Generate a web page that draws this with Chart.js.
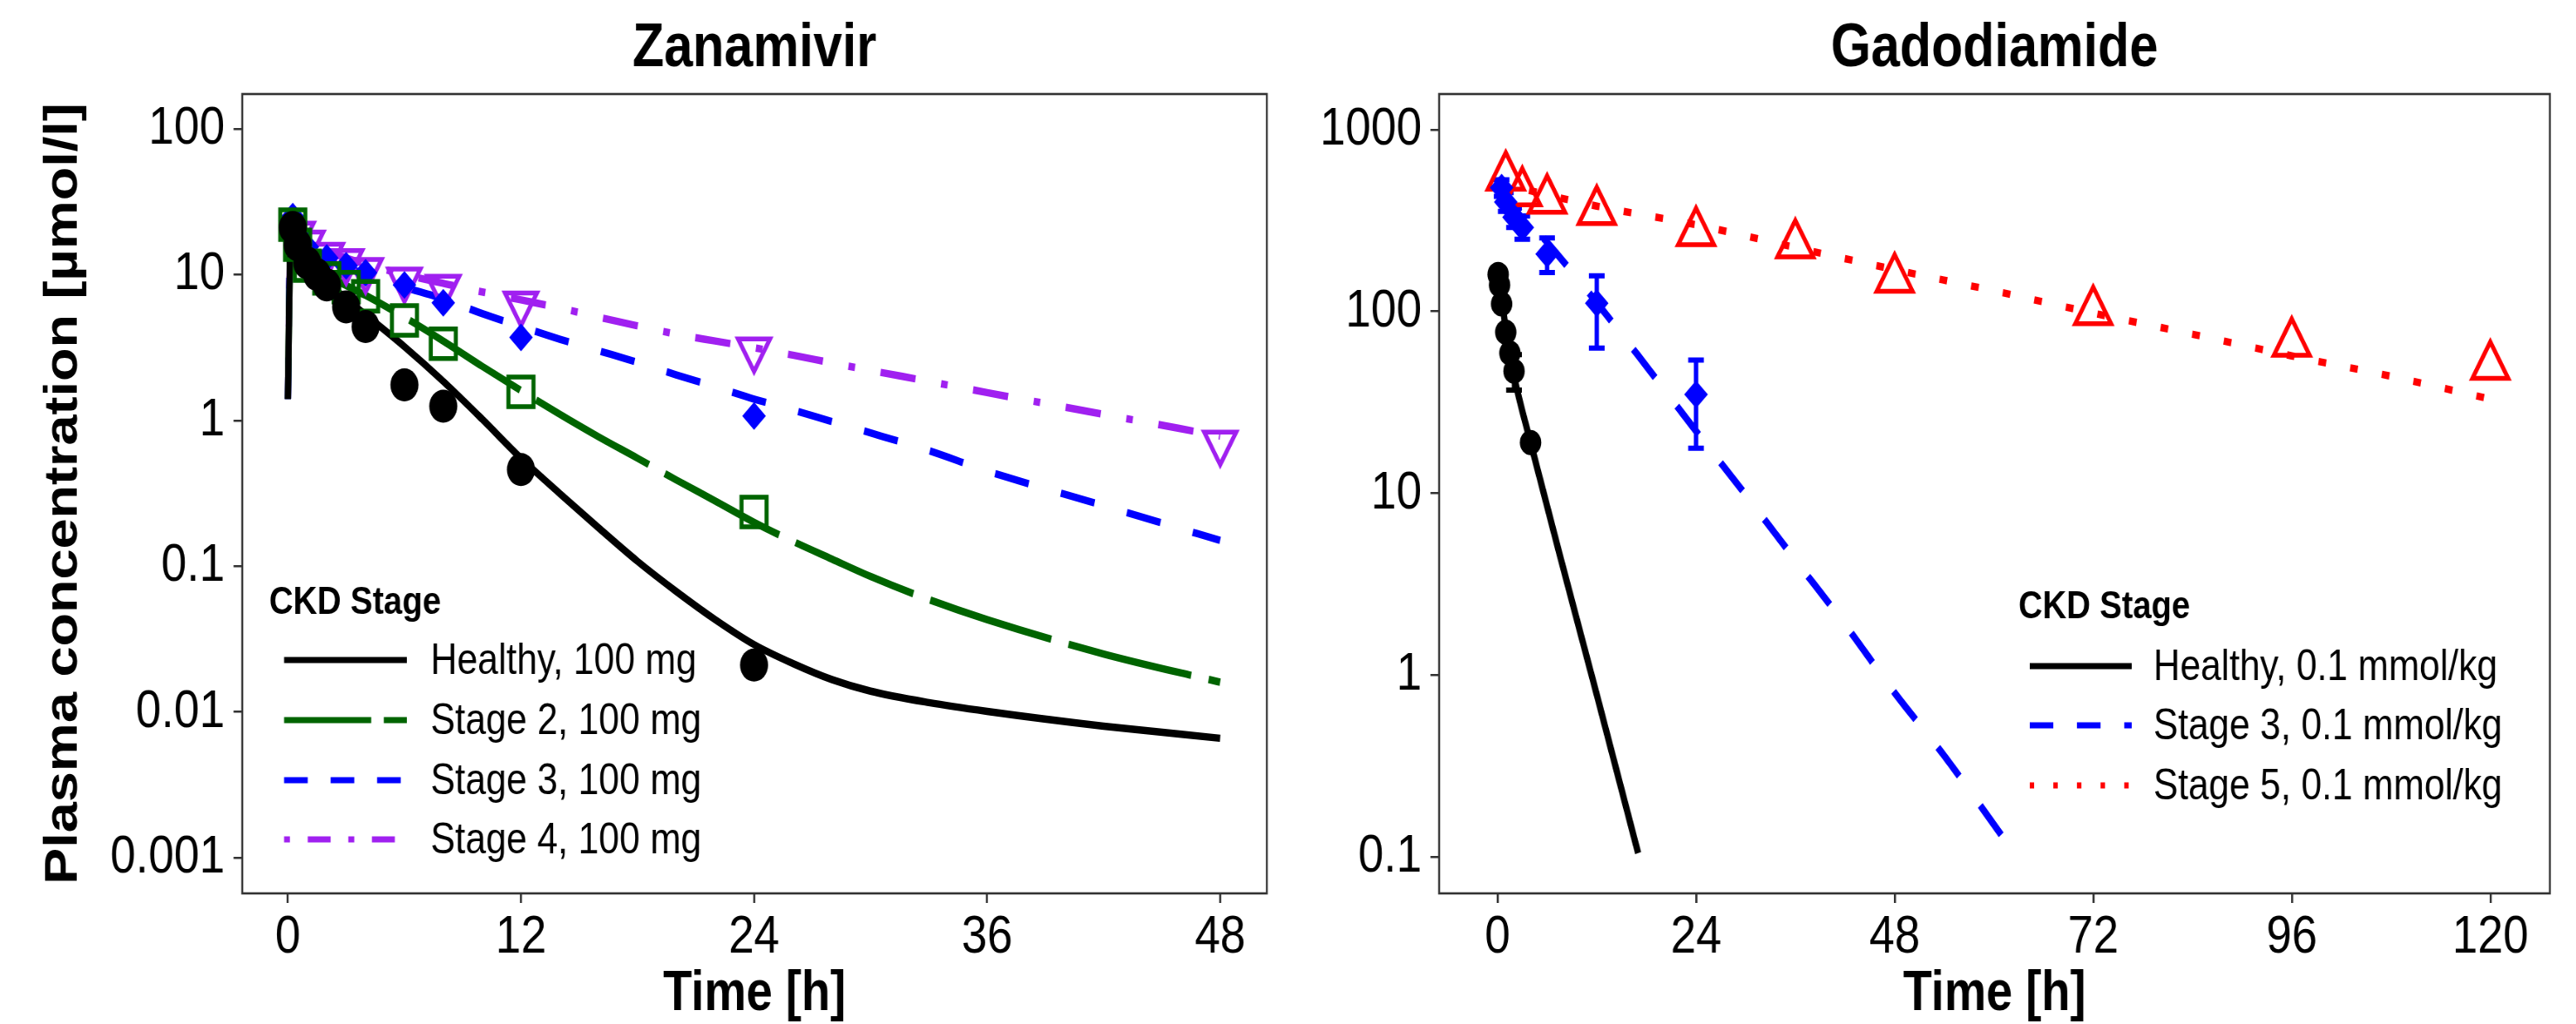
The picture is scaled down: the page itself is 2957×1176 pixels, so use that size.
<!DOCTYPE html>
<html>
<head>
<meta charset="utf-8">
<title>Zanamivir and Gadodiamide plasma concentrations by CKD stage</title>
<script src="https://cdn.jsdelivr.net/npm/chart.js@4.4.0/dist/chart.umd.min.js"></script>
<style>
    html, body { margin: 0; padding: 0; background: #fff; overflow: hidden; }
    #page { position: relative; width: 2957px; height: 1176px; overflow: hidden; }
    .panel { position: absolute; top: 0; height: 1176px; transform-origin: 0 0; }
</style>
</head>
<body>
<div id="page">
    <div class="panel" id="zanaBox"><canvas id="zana"></canvas></div>
    <div class="panel" id="gadoBox"><canvas id="gado"></canvas></div>
</div>
<script>
// ---------- Zanamivir (left panel) ----------
const zanaSimTime    = [0, 0.1, 0.25, 0.5, 1, 2, 3, 4, 6, 8, 10, 12, 14, 16, 18, 20, 22, 24, 26, 28, 30, 33, 36, 42, 48];
const zanaSimHealthy = [1.4, 12, 20, 17, 13, 9, 6.8, 5.3, 3.2, 1.85, 1.02, 0.55, 0.315, 0.183, 0.108, 0.067, 0.043, 0.029, 0.0215, 0.0167, 0.0139, 0.0116, 0.0101, 0.0080, 0.0066];
const zanaSimStage2  = [1.4, 12, 20, 17, 13, 10, 8.4, 7.2, 5.1, 3.5, 2.35, 1.6, 1.1, 0.77, 0.55, 0.39, 0.28, 0.2, 0.148, 0.112, 0.085, 0.059, 0.043, 0.025, 0.016];
const zanaSimStage3  = [1.4, 13, 21, 18, 15.5, 13, 11.3, 10, 8.2, 6.8, 5.4, 4.4, 3.6, 3.0, 2.5, 2.05, 1.7, 1.4, 1.18, 0.98, 0.82, 0.62, 0.45, 0.26, 0.15];
const zanaSimStage4  = [1.4, 13, 21, 18.5, 16.5, 14.5, 13, 11.8, 10, 8.7, 7.6, 6.7, 5.9, 5.1, 4.45, 3.9, 3.5, 3.15, 2.8, 2.48, 2.2, 1.85, 1.55, 1.1, 0.78];

const zanaObsHealthyTime = [0.25, 0.5, 1, 1.5, 2, 3, 4, 6, 8, 12, 24];
const zanaObsHealthy     = [21, 16, 12, 10, 8.5, 6, 4.4, 1.75, 1.25, 0.46, 0.021];
const zanaObsStage2Time  = [0.25, 0.5, 1, 2, 3, 4, 6, 8, 12, 24];
const zanaObsStage2      = [22, 16, 11.5, 9.4, 8.2, 7.1, 4.85, 3.35, 1.57, 0.235];
const zanaObsStage3Time  = [0.25, 0.5, 1, 2, 3, 4, 6, 8, 12, 24];
const zanaObsStage3      = [25, 19, 15.5, 13, 11.5, 10.3, 8.5, 6.4, 3.7, 1.07];
const zanaObsStage4Time  = [0.5, 1, 2, 3, 4, 6, 8, 12, 24, 48];
const zanaObsStage4      = [19, 16.5, 13.6, 12.3, 10.7, 9.2, 8.2, 6.3, 3.05, 0.7];

const zanaXTicks      = [0, 12, 24, 36, 48];
const zanaYTicks      = [0.001, 0.01, 0.1, 1, 10, 100];
const zanaYTickLabels = ['0.001', '0.01', '0.1', '1', '10', '100'];
const zanaLegendLabels = ['Healthy, 100 mg', 'Stage 2, 100 mg', 'Stage 3, 100 mg', 'Stage 4, 100 mg'];

// ---------- Gadodiamide (right panel) ----------
const gadoSimHealthyTime = [0, 0.5, 1, 1.5, 2, 4, 8, 12, 17];
const gadoSimHealthy     = [170, 120, 80, 58, 44, 19, 3.8, 0.78, 0.105];
const gadoSimStage3Time  = [0, 3, 6, 12, 18, 24, 30, 36, 42, 48, 54, 61];
const gadoSimStage3      = [500, 340, 240, 112, 50, 22, 9.8, 4.3, 1.9, 0.8, 0.36, 0.13];
const gadoSimStage5Time  = [0, 12, 24, 36, 48, 60, 72, 84, 96, 108, 120];
const gadoSimStage5      = [510, 380, 300, 225, 170, 130, 98, 75, 57, 44, 33];

const gadoObsHealthyTime = [0.08, 0.25, 0.5, 1, 1.5, 2, 4];
const gadoObsHealthy     = [160, 140, 110, 77, 59, 47, 19];
const gadoObsHealthyLow  = [null, null, null, null, null, 37, null];
const gadoObsHealthyHigh = [null, null, null, null, null, 58, null];
const gadoObsStage3Time  = [0.5, 1, 2, 3, 6, 12, 24];
const gadoObsStage3      = [480, 400, 330, 290, 207, 111, 35];
const gadoObsStage3Low   = [430, 355, 290, 250, 164, 63, 17.7];
const gadoObsStage3High  = [530, 450, 370, 335, 254, 157, 54];
const gadoObsStage5Time  = [1, 3, 6, 12, 24, 36, 48, 72, 96, 120];
const gadoObsStage5      = [550, 450, 410, 355, 272, 233, 151, 100, 67, 50];

const gadoXTicks      = [0, 24, 48, 72, 96, 120];
const gadoYTicks      = [0.1, 1, 10, 100, 1000];
const gadoYTickLabels = ['0.1', '1', '10', '100', '1000'];
const gadoLegendLabels = ['Healthy, 0.1 mmol/kg', 'Stage 3, 0.1 mmol/kg', 'Stage 5, 0.1 mmol/kg'];

// ---------- styling ----------
// The figure looks tall and narrow, so each panel is drawn wider and squeezed back.
const SQUEEZE = 1.18;
const FONT = '"Liberation Sans", Arial, sans-serif';
const AXIS = '#333333';
const BLACK = '#000000';
const GREEN = '#006400';
const BLUE = '#0000FF';
const PURPLE = '#A020F0';
const RED = '#FF0000';
const NONE = 'rgba(0,0,0,0)';

/** horizontal size in the widened canvas */
function sx(v) {
    return v * SQUEEZE;
}

/** place a panel box and squeeze it back to its page width */
function setupBox(id, left, width) {
    const box = document.getElementById(id);
    const wide = Math.round(width * SQUEEZE);
    box.style.left = left + 'px';
    box.style.width = wide + 'px';
    box.style.transform = 'scaleX(' + (width / wide) + ')';
}

/** zip two arrays into {x, y} points */
function toPoints(xs, ys) {
    return xs.map((x, i) => ({ x: x, y: ys[i] }));
}

/** simulated curve drawn as a line without markers */
function simLine(label, xs, ys, color, dash, legendDash) {
    return {
        label: label,
        data: toPoints(xs, ys),
        showLine: true,
        borderColor: color,
        borderWidth: 8.5,
        borderDash: dash,
        borderCapStyle: 'butt',
        cubicInterpolationMode: 'monotone',
        pointRadius: 0,
        pointHoverRadius: 0,
        fill: false,
        order: 2,
        legendDash: legendDash
    };
}

/** observed data drawn as markers only */
function obsPoints(xs, ys, style) {
    return Object.assign({
        data: toPoints(xs, ys),
        showLine: false,
        pointBorderWidth: 0,
        order: 1
    }, style);
}

// frame round the panel
const framePlugin = {
    id: 'frame',
    afterDraw(chart) {
        const a = chart.chartArea;
        const ctx = chart.ctx;
        ctx.save();
        ctx.strokeStyle = AXIS;
        ctx.lineWidth = 2.6;
        ctx.strokeRect(a.left, a.top, a.right - a.left, a.bottom - a.top);
        ctx.restore();
    }
};

// vertical error bars with caps
const errorBarPlugin = {
    id: 'errorBars',
    beforeDatasetsDraw(chart, args, opts) {
        if (!opts || !opts.sets) return;
        const ctx = chart.ctx;
        const xs = chart.scales.x;
        const ys = chart.scales.y;
        const half = sx(9);
        ctx.save();
        opts.sets.forEach(set => {
            ctx.strokeStyle = set.color;
            set.x.forEach((t, i) => {
                if (set.low[i] == null) return;
                const px = xs.getPixelForValue(t);
                const lo = ys.getPixelForValue(set.low[i]);
                const hi = ys.getPixelForValue(set.high[i]);
                ctx.lineWidth = sx(5);
                ctx.beginPath();
                ctx.moveTo(px, lo);
                ctx.lineTo(px, hi);
                ctx.stroke();
                ctx.lineWidth = 6;
                ctx.beginPath();
                ctx.moveTo(px - half, lo);
                ctx.lineTo(px + half, lo);
                ctx.moveTo(px - half, hi);
                ctx.lineTo(px + half, hi);
                ctx.stroke();
            });
        });
        ctx.restore();
    }
};

// legend in the ggplot style, inside the panel
const stageLegendPlugin = {
    id: 'stageLegend',
    afterDraw(chart, args, opts) {
        if (!opts || !opts.title) return;
        const ctx = chart.ctx;
        const items = chart.data.datasets.filter(ds => ds.legendDash);
        ctx.save();
        ctx.fillStyle = BLACK;
        ctx.textAlign = 'left';
        ctx.textBaseline = 'alphabetic';
        ctx.font = 'bold 45px ' + FONT;
        ctx.fillText(opts.title, sx(opts.titleX), opts.titleY);
        items.forEach((ds, i) => {
            const y = opts.rowY[i];
            ctx.strokeStyle = ds.borderColor;
            ctx.lineWidth = 7;
            ctx.setLineDash(ds.legendDash);
            ctx.beginPath();
            ctx.moveTo(sx(opts.keyX0), y);
            ctx.lineTo(sx(opts.keyX1), y);
            ctx.stroke();
            ctx.setLineDash([]);
            ctx.font = '50px ' + FONT;
            ctx.textBaseline = 'middle';
            ctx.fillText(ds.label, sx(opts.textX), y + 2);
        });
        ctx.restore();
    }
};

/** shared axis/layout options for one panel */
function panelOptions(cfg) {
    return {
        responsive: true,
        maintainAspectRatio: false,
        animation: false,
        layout: { padding: { left: 0, right: sx(cfg.padRight), top: 0, bottom: 0 } },
        plugins: {
            legend: { display: false },
            tooltip: { enabled: false },
            title: {
                display: true,
                text: cfg.title,
                fullSize: false,
                color: BLACK,
                font: { family: FONT, size: 70, weight: 'bold', lineHeight: 1 },
                padding: { top: 22, bottom: 16 }
            },
            errorBars: { sets: cfg.errorSets || [] },
            stageLegend: cfg.legend
        },
        scales: {
            x: {
                type: 'linear',
                min: cfg.xMin,
                max: cfg.xMax,
                afterBuildTicks: s => { s.ticks = cfg.xTicks.map(v => ({ value: v })); },
                afterFit: s => { s.height = 150; },
                grid: { display: true, drawOnChartArea: false, drawTicks: true, tickLength: 11, color: AXIS, lineWidth: 2.8 },
                border: { display: false },
                ticks: { color: BLACK, font: { family: FONT, size: 62 }, padding: 3, maxRotation: 0, autoSkip: false },
                title: {
                    display: true,
                    text: 'Time [h]',
                    color: BLACK,
                    font: { family: FONT, size: 64, weight: 'bold', lineHeight: 1 },
                    padding: { top: 0, bottom: 2 }
                }
            },
            y: {
                type: 'logarithmic',
                min: cfg.yMin,
                max: cfg.yMax,
                afterBuildTicks: s => { s.ticks = cfg.yTicks.map(v => ({ value: v })); },
                afterFit: s => { s.width = sx(cfg.yWidth); },
                grid: { display: true, drawOnChartArea: false, drawTicks: true, tickLength: sx(10), color: AXIS, lineWidth: 2.5 },
                border: { display: false },
                ticks: {
                    color: BLACK,
                    font: { family: FONT, size: 62 },
                    padding: sx(10),
                    autoSkip: false,
                    callback: (v, i) => cfg.yTickLabels[i]
                },
                title: {
                    display: !!cfg.yTitle,
                    text: cfg.yTitle || '',
                    color: BLACK,
                    font: { family: FONT, size: 63, weight: 'bold', lineHeight: 1 },
                    padding: { top: 55, bottom: 0 }
                }
            }
        }
    };
}

const plugins = [framePlugin, errorBarPlugin, stageLegendPlugin];

setupBox('zanaBox', 0, 1480);
setupBox('gadoBox', 1480, 1477);

new Chart(document.getElementById('zana'), {
    type: 'scatter',
    data: {
        datasets: [
            obsPoints(zanaObsHealthyTime, zanaObsHealthy, { pointStyle: 'circle', pointRadius: 19, pointBackgroundColor: BLACK, pointBorderColor: BLACK }),
            obsPoints(zanaObsStage2Time, zanaObsStage2, { pointStyle: 'rect', pointRadius: 24, pointBackgroundColor: NONE, pointBorderColor: GREEN, pointBorderWidth: 5.5 }),
            obsPoints(zanaObsStage3Time, zanaObsStage3, { pointStyle: 'rectRot', pointRadius: 16, pointBackgroundColor: BLUE, pointBorderColor: BLUE }),
            obsPoints(zanaObsStage4Time, zanaObsStage4, { pointStyle: 'triangle', pointRotation: 180, pointRadius: 25, pointBackgroundColor: NONE, pointBorderColor: PURPLE, pointBorderWidth: 5.5 }),
            simLine(zanaLegendLabels[0], zanaSimTime, zanaSimHealthy, BLACK, [], [1, 0]),
            simLine(zanaLegendLabels[1], zanaSimTime, zanaSimStage2, GREEN, [170, 24], [118, 17]),
            simLine(zanaLegendLabels[2], zanaSimTime, zanaSimStage3, BLUE, [47, 45], [32, 31]),
            simLine(zanaLegendLabels[3], zanaSimTime, zanaSimStage4, PURPLE, [48, 35, 9, 35], [8, 24, 31, 24])
        ]
    },
    options: panelOptions({
        title: 'Zanamivir',
        yTitle: 'Plasma concentration [\u00b5mol/l]',
        xMin: -2.35, xMax: 50.4, xTicks: zanaXTicks,
        yMin: 0.00057, yMax: 173, yTicks: zanaYTicks, yTickLabels: zanaYTickLabels,
        yWidth: 278, padRight: 9,
        legend: { title: 'CKD Stage', titleX: 309, titleY: 705, rowY: [758, 827, 896, 964], keyX0: 326, keyX1: 467, textX: 494 }
    }),
    plugins: plugins
});

new Chart(document.getElementById('gado'), {
    type: 'scatter',
    data: {
        datasets: [
            obsPoints(gadoObsHealthyTime, gadoObsHealthy, { pointStyle: 'circle', pointRadius: 14.5, pointBackgroundColor: BLACK, pointBorderColor: BLACK }),
            obsPoints(gadoObsStage3Time, gadoObsStage3, { pointStyle: 'rectRot', pointRadius: 16, pointBackgroundColor: BLUE, pointBorderColor: BLUE }),
            obsPoints(gadoObsStage5Time, gadoObsStage5, { pointStyle: 'triangle', pointRadius: 28, pointBackgroundColor: NONE, pointBorderColor: RED, pointBorderWidth: 5.5 }),
            simLine(gadoLegendLabels[0], gadoSimHealthyTime, gadoSimHealthy, BLACK, [], [1, 0]),
            simLine(gadoLegendLabels[1], gadoSimStage3Time, gadoSimStage3, BLUE, [44, 44], [32, 32]),
            simLine(gadoLegendLabels[2], gadoSimStage5Time, gadoSimStage5, RED, [10.5, 33], [6, 26])
        ]
    },
    options: panelOptions({
        title: 'Gadodiamide',
        yTitle: null,
        xMin: -7.05, xMax: 127.2, xTicks: gadoXTicks,
        yMin: 0.063, yMax: 1571, yTicks: gadoYTicks, yTickLabels: gadoYTickLabels,
        yWidth: 172, padRight: 30,
        errorSets: [
            { x: gadoObsHealthyTime, low: gadoObsHealthyLow, high: gadoObsHealthyHigh, color: BLACK },
            { x: gadoObsStage3Time, low: gadoObsStage3Low, high: gadoObsStage3High, color: BLUE }
        ],
        legend: { title: 'CKD Stage', titleX: 837, titleY: 710, rowY: [765, 833, 902], keyX0: 850, keyX1: 967, textX: 992 }
    }),
    plugins: plugins
});
</script>
</body>
</html>
